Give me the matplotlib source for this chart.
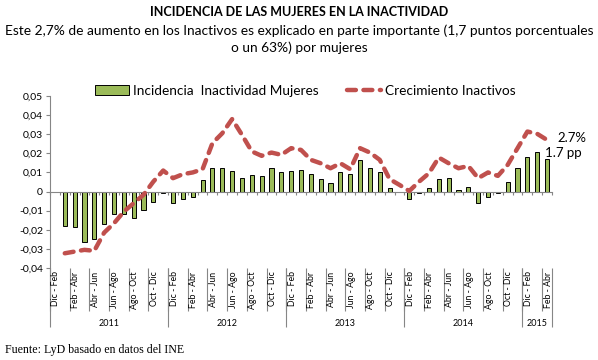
import matplotlib
matplotlib.use("Agg")
import matplotlib.pyplot as plt
from matplotlib.lines import Line2D
from matplotlib.patches import Patch
import numpy as np

# data (rolling quarters, 2011 - 2015)
years = ["2011", "2012", "2013", "2014", "2015"]
year_counts = [12, 12, 12, 12, 3]
periods = ["Dic - Feb", "Ene - Mar", "Feb - Abr", "Mar - May", "Abr - Jun", "May - Jul",
           "Jun - Ago", "Jul - Sep", "Ago - Oct", "Sep - Nov", "Oct - Dic", "Nov - Ene"]

incidencia_mujeres = [
    np.nan, -0.0178, -0.0188, -0.0262, -0.0250, -0.0171, -0.0119, -0.0119, -0.0138, -0.0096, -0.0056, -0.0005,
    -0.0061, -0.0040, -0.0030, 0.0061, 0.0122, 0.0122, 0.0108, 0.0070, 0.0086, 0.0080, 0.0122, 0.0101,
    0.0108, 0.0113, 0.0091, 0.0065, 0.0044, 0.0101, 0.0091, 0.0166, 0.0122, 0.0101, 0.0017, -0.0003,
    -0.0038, -0.0009, 0.0017, 0.0065, 0.0070, 0.0009, 0.0023, -0.0061, -0.0026, -0.0009, 0.0049, 0.0122,
    0.0180, 0.0208, 0.0170,
]
crecimiento_inactivos = [
    np.nan, -0.0323, -0.0314, -0.0305, -0.0310, -0.0215, -0.0166, -0.0105, -0.0061, -0.0017, 0.0052, 0.0110,
    0.0070, 0.0091, 0.0100, 0.0117, 0.0253, 0.0305, 0.0379, 0.0297, 0.0210, 0.0187, 0.0204, 0.0192,
    0.0227, 0.0218, 0.0166, 0.0148, 0.0122, 0.0148, 0.0117, 0.0227, 0.0204, 0.0166, 0.0065, 0.0035,
    0.0003, 0.0052, 0.0096, 0.0178, 0.0148, 0.0122, 0.0134, 0.0070, 0.0100, 0.0082, 0.0140, 0.0227,
    0.0314, 0.0302, 0.0270,
]

labels = []
for n in year_counts:
    labels += periods[:n]
n_cat = len(labels)
x = np.arange(n_cat) + 0.5

plt.rcParams['font.family'] = ['Lato', 'DejaVu Sans']

bar_color = '#9BBB59'
line_color = '#C0504D'

fig = plt.figure(figsize=(5.98, 3.60), dpi=100)
W, H = 598, 360
ax = fig.add_axes([50 / W, (H - 268) / H, 502 / W, 172 / H])

ax.bar(x, incidencia_mujeres, width=0.42, color=bar_color, edgecolor='black', linewidth=0.7, zorder=2)
ax.plot(x, crecimiento_inactivos, color=line_color, lw=3.2, dashes=(2.0, 1.7),
        dash_capstyle='round', zorder=3)

yvals = np.arange(-0.04, 0.0501, 0.01)
ax.set_xlim(0, n_cat)
ax.set_ylim(-0.04, 0.05)
ax.set_yticks(yvals)
ax.set_yticklabels(["0" if abs(v) < 1e-9 else f"{v:.2f}".replace('.', ',') for v in yvals])
ax.tick_params(axis='y', direction='out', length=3, labelsize=7.5, color='#868686', pad=2)

# category axis drawn through zero
ax.spines['top'].set_visible(False)
ax.spines['right'].set_visible(False)
ax.spines['bottom'].set_position(('data', 0))
ax.spines['bottom'].set_color('#868686')
ax.spines['left'].set_color('#868686')
ax.set_xticks(np.arange(n_cat + 1))
ax.tick_params(axis='x', direction='out', length=2.5, color='#868686', labelbottom=False)

# multi-level category labels below the plot
xt = ax.get_xaxis_transform()
for i in range(0, n_cat, 2):
    ax.text(x[i] + 0.1, -0.02, labels[i], rotation=90, ha='center', va='top',
            fontsize=6.3, transform=xt)
ax.vlines(np.arange(0, n_cat, 2), -0.25, 0, transform=xt, color='#868686', lw=0.8, clip_on=False)
bounds = np.concatenate([[0], np.cumsum(year_counts)])
ax.vlines(bounds, -0.345, 0, transform=xt, color='#868686', lw=0.8, clip_on=False)
for yr, a, b in zip(years, bounds[:-1], bounds[1:]):
    ax.text((a + b) / 2, -0.32, yr, ha='center', va='center', fontsize=6.5, transform=xt)

handles = [Patch(facecolor=bar_color, edgecolor='black', linewidth=0.7),
           Line2D([0], [0], color=line_color, lw=3.2, dashes=(2.0, 1.7), dash_capstyle='round')]
ax.legend(handles, ["Incidencia  Inactividad Mujeres", "Crecimiento Inactivos"],
          loc='center', bbox_to_anchor=(0.509, 1.03), ncol=2, frameon=False,
          fontsize=9.8, handlelength=2.5, columnspacing=2.1, handletextpad=0.3)

ax.annotate("2.7%", (x[-1], crecimiento_inactivos[-1]), xytext=(10, 2),
            textcoords='offset pixels', fontsize=9.5, va='center', ha='left', annotation_clip=False)
ax.annotate("1.7 pp", (x[-1], incidencia_mujeres[-1]), xytext=(-2, 6),
            textcoords='offset pixels', fontsize=9.5, va='center', ha='left', annotation_clip=False)

fig.text(0.5, 1 - 12 / H, "INCIDENCIA DE LAS MUJERES EN LA INACTIVIDAD",
         ha='center', va='center', fontsize=9.0, fontweight='bold')
fig.text(0.5, 1 - 31 / H, "Este 2,7% de aumento en los Inactivos es explicado en parte importante (1,7 puntos porcentuales",
         ha='center', va='center', fontsize=9.9)
fig.text(0.5, 1 - 48 / H, "o un 63%) por mujeres", ha='center', va='center', fontsize=9.9)
fig.text(5 / W, 1 - 350 / H, "Fuente: LyD basado en datos del INE", ha='left', va='center',
         fontsize=8.6, family='Liberation Serif')

fig.savefig("out.png", dpi=100)
